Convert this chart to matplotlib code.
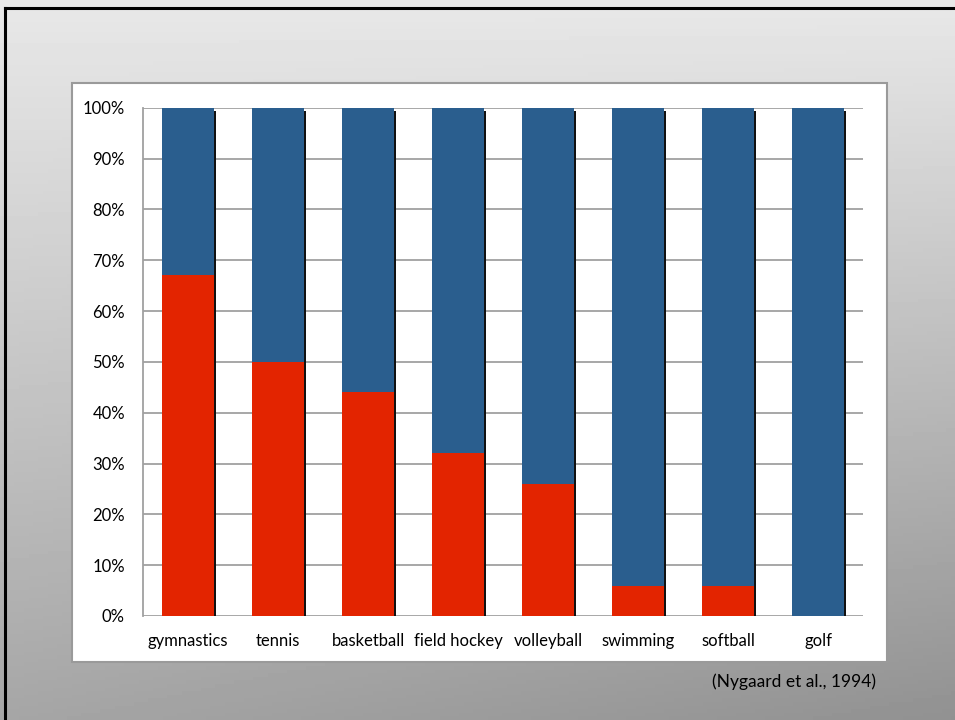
import numpy as np
import matplotlib
matplotlib.use("Agg")
import matplotlib.pyplot as plt
from matplotlib.patches import Rectangle
from matplotlib.lines import Line2D
from matplotlib.ticker import PercentFormatter

# data (percent of athletes in each sport)
sports = ["gymnastics", "tennis", "basketball", "field hockey", "volleyball",
          "swimming", "softball", "golf"]
red_pct = [67, 50, 44, 32, 26, 6, 6, 0]
blue_pct = [100 - v for v in red_pct]
y_ticks = list(range(0, 101, 10))
source = "(Nygaard et al., 1994)"

RED = "#E32400"
BLUE = "#2A5E8E"
GRID = "#A0A0A0"

plt.rcParams['font.family'] = ['Lato', 'DejaVu Sans']

W, H = 955, 720
fig = plt.figure(figsize=(W / 100, H / 100), dpi=100)


def fx(px):
    return px / W


def fy(py):
    return 1 - py / H


# slide background: gray gradient, darker towards bottom right
bg = fig.add_axes([0, 0, 1, 1], zorder=-10)
gy, gx = np.mgrid[0:1:200j, 0:1:200j]
shade = 0.91 - 0.26 * gy - 0.08 * gx * gy
bg.imshow(shade, cmap="gray", vmin=0, vmax=1, aspect="auto",
          extent=[0, 1, 0, 1], origin="upper")
bg.set_xlim(0, 1)
bg.set_ylim(0, 1)
bg.axis("off")

# slide border (top and left only, slide is cropped)
fig.add_artist(Line2D([fx(5), 1], [fy(8), fy(8)], color="black", lw=2.2,
                      transform=fig.transFigure))
fig.add_artist(Line2D([fx(5), fx(5)], [fy(8), 0], color="black", lw=2.2,
                      transform=fig.transFigure))

# white chart box
fig.add_artist(Rectangle((fx(72), fy(662)), fx(887 - 72), (662 - 83) / H,
                         transform=fig.transFigure, facecolor="white",
                         edgecolor="#9A9A9A", lw=1.5, zorder=0))

ax = fig.add_axes([fx(143), fy(616), fx(863 - 143), (616 - 107.7) / H])
ax.set_facecolor("none")

x = np.arange(len(sports))
bw = 0.57
# drop shadow on right side of each bar
ax.bar(x + 0.03, [100 - 0.6] * len(x), width=bw, color="#111111",
       zorder=2)
ax.bar(x, red_pct, width=bw, color=RED, zorder=3)
ax.bar(x, blue_pct, width=bw, bottom=red_pct, color=BLUE, zorder=3)

ax.set_xlim(-0.5, len(sports) - 0.5)
ax.set_ylim(0, 100)
ax.set_yticks(y_ticks)
ax.yaxis.set_major_formatter(PercentFormatter(decimals=0))
ax.set_xticks(x)
ax.set_xticklabels(sports)
ax.tick_params(axis="both", length=0, labelsize=12, colors="black")
ax.tick_params(axis="y", pad=13)
ax.tick_params(axis="x", pad=12)

ax.grid(axis="y", color=GRID, lw=1.3, zorder=1)
ax.set_axisbelow(True)
for side in ["top", "right", "bottom"]:
    ax.spines[side].set_visible(False)
ax.spines["left"].set_color(GRID)
ax.spines["left"].set_linewidth(1.3)

fig.text(fx(876), fy(682), source, ha="right", va="center", fontsize=12.5)

fig.savefig("out.png", dpi=100)
